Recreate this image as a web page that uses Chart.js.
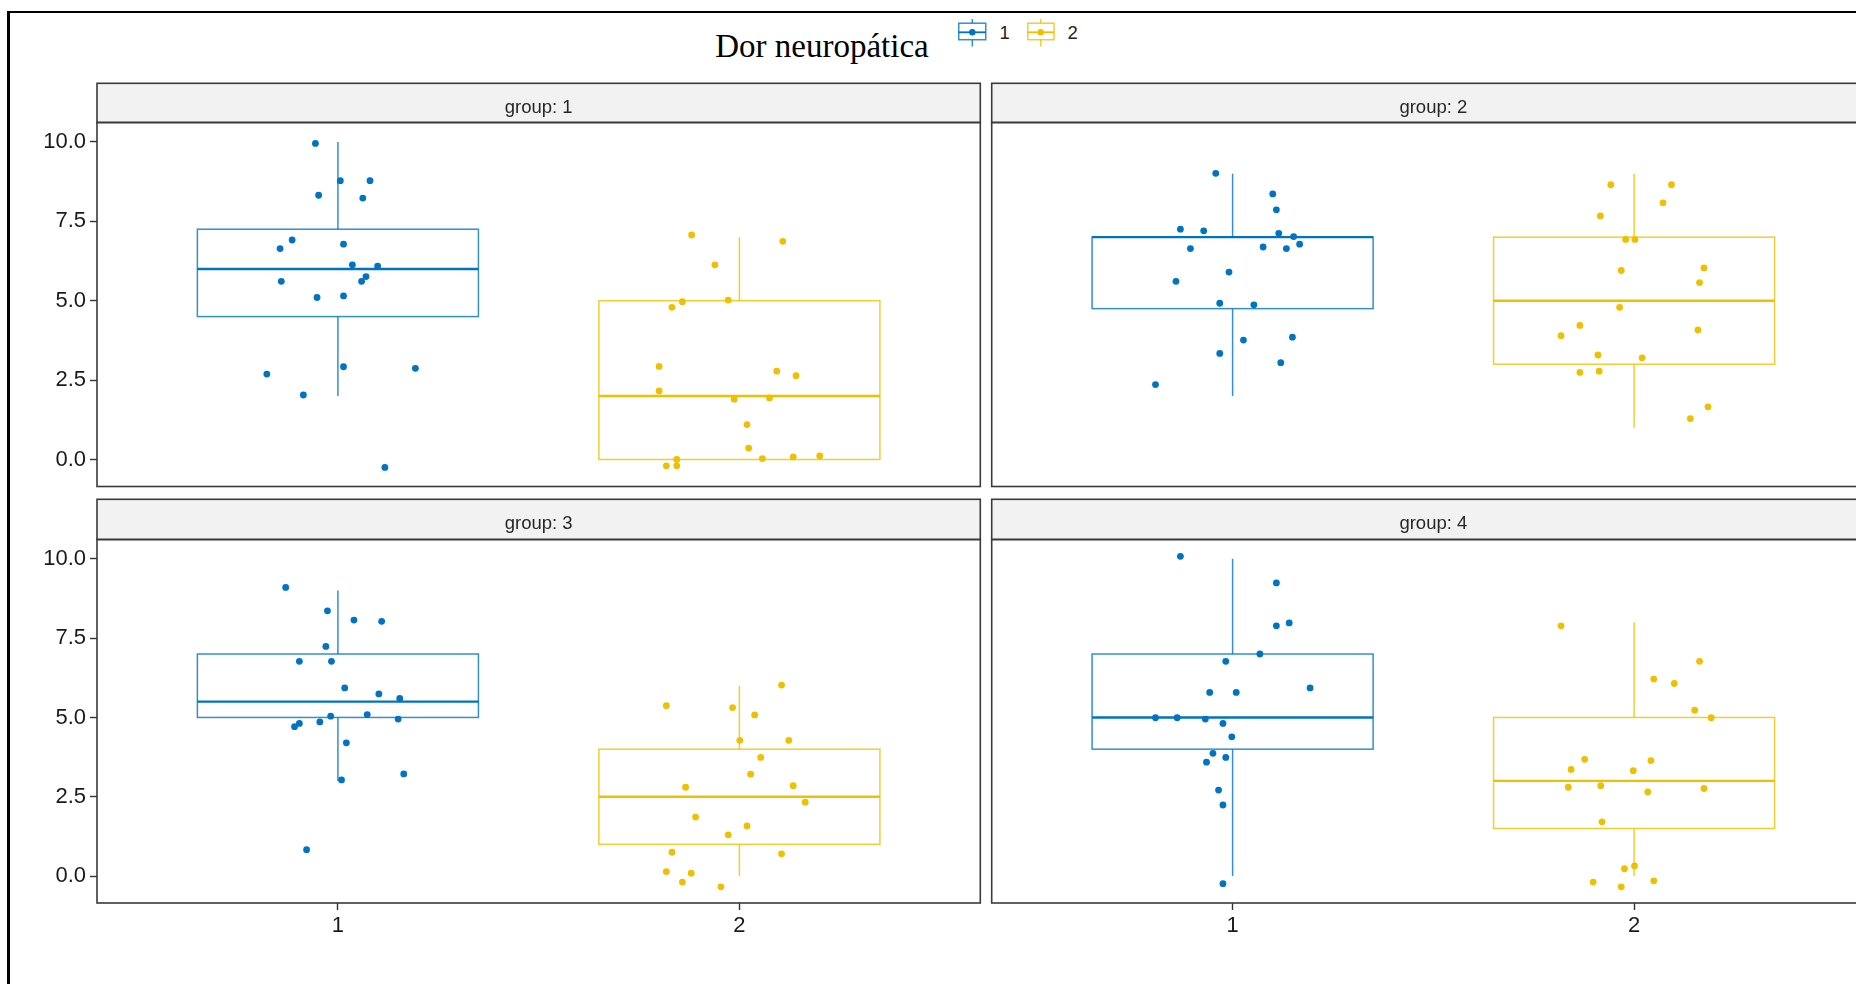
<!DOCTYPE html>
<html>
<head>
<meta charset="utf-8">
<title>Dor neuropática</title>
<script src="https://cdn.jsdelivr.net/npm/chart.js@4.4.1/dist/chart.umd.min.js"></script>
<style>
  html, body { margin: 0; padding: 0; width: 1856px; height: 984px; overflow: hidden; background: #fff; }
  #frame { position: absolute; left: 7px; top: 11px; width: 1900px; height: 1000px;
           border-left: 3px solid #000; border-top: 2.5px solid #000; box-sizing: border-box; }
  canvas { position: absolute; }
  #title { position: absolute; left: 622px; top: 29.5px; width: 400px; text-align: center;
           font-family: "Liberation Serif", "DejaVu Serif", serif; font-size: 33px; line-height: 33px; color: #000; }
  .key { position: absolute; top: 17.5px; }
  .keylab { position: absolute; top: 22.5px; font-family: "Liberation Sans", Arial, sans-serif;
            font-size: 18.5px; line-height: 20px; color: #222; }
</style>
</head>
<body>
<div id="frame"></div>
<div id="title">Dor neuropática</div>

<svg class="key" style="left:958px" width="29" height="30" viewBox="0 0 29 30">
  <line x1="14.3" y1="1" x2="14.3" y2="28.5" stroke="#0073C2" stroke-opacity="0.8" stroke-width="1.5"/>
  <rect x="0.75" y="5.2" width="27" height="16.5" fill="#fff" stroke="#0073C2" stroke-opacity="0.8" stroke-width="1.5"/>
  <line x1="0.75" y1="14.3" x2="27.75" y2="14.3" stroke="#0073C2" stroke-width="1.8"/>
  <circle cx="14.3" cy="14.3" r="3.2" fill="#0073C2"/>
</svg>
<div class="keylab" id="key1" style="left:999.5px"></div>

<svg class="key" style="left:1027px" width="29" height="30" viewBox="0 0 29 30">
  <line x1="13.7" y1="1" x2="13.7" y2="28.5" stroke="#EFC000" stroke-opacity="0.8" stroke-width="1.5"/>
  <rect x="0.75" y="5.2" width="26.3" height="16.5" fill="#fff" stroke="#EFC000" stroke-opacity="0.8" stroke-width="1.5"/>
  <line x1="0.75" y1="14.3" x2="27" y2="14.3" stroke="#EFC000" stroke-width="1.8"/>
  <circle cx="13.7" cy="14.3" r="3.2" fill="#EFC000"/>
</svg>
<div class="keylab" id="key2" style="left:1067.5px"></div>

<canvas id="p1" width="986" height="413" style="left:0px;top:80px;width:986px;height:413px"></canvas>
<canvas id="p2" width="894" height="413" style="left:986px;top:80px;width:894px;height:413px"></canvas>
<canvas id="p3" width="986" height="491" style="left:0px;top:493px;width:986px;height:491px"></canvas>
<canvas id="p4" width="894" height="491" style="left:986px;top:493px;width:894px;height:491px"></canvas>

<script>
// Treatment categories on the x axis (also the legend entries)
const categories = ['1', '2'];
// Facet strip labels
const facetLabels = ['group: 1', 'group: 2', 'group: 3', 'group: 4'];
// Shared y axis ticks
const yTickValues = [0, 2.5, 5, 7.5, 10];
const yTickLabels = ['0.0', '2.5', '5.0', '7.5', '10.0'];

// Pain scores per facet and treatment (jittered plotted values),
// with the horizontal jitter of each point in category units.
const g1Scores1 = [9.95, 8.78, 8.78, 8.32, 8.23, 6.91, 6.64, 6.78, 6.13, 6.09, 5.76, 5.61, 5.61, 5.10, 5.15, 2.92, 2.87, 2.69, 2.03, -0.25];
const g1Jitter1 = [-0.056, 0.006, 0.080, -0.048, 0.062, -0.114, -0.144, 0.014, 0.036, 0.099, 0.070, 0.059, -0.141, -0.052, 0.014, 0.014, 0.193, -0.177, -0.086, 0.117];
const g1Scores2 = [7.07, 6.87, 6.13, 4.97, 4.79, 5.02, 2.93, 2.78, 2.64, 2.16, 1.90, 1.94, 1.10, 0.36, 0.00, -0.20, -0.20, 0.03, 0.08, 0.11];
const g1Jitter2 = [-0.119, 0.108, -0.061, -0.142, -0.168, -0.028, -0.200, 0.093, 0.141, -0.200, -0.013, 0.075, 0.019, 0.023, -0.156, -0.182, -0.156, 0.057, 0.134, 0.200];

const g2Scores1 = [9.01, 8.36, 7.86, 7.25, 7.20, 7.12, 7.02, 6.78, 6.64, 6.69, 6.64, 5.90, 5.61, 4.92, 4.87, 3.76, 3.85, 3.34, 3.05, 2.36];
const g2Jitter1 = [-0.042, 0.100, 0.109, -0.130, -0.072, 0.115, 0.152, 0.167, -0.105, 0.076, 0.134, -0.009, -0.141, -0.032, 0.053, 0.027, 0.149, -0.032, 0.120, -0.192];
const g2Scores2 = [8.65, 8.65, 8.08, 7.67, 6.93, 6.93, 5.95, 6.03, 5.57, 4.79, 4.22, 3.90, 4.08, 3.29, 3.20, 2.74, 2.78, 1.66, 1.29];
const g2Jitter2 = [-0.058, 0.093, 0.072, -0.084, -0.021, 0.002, -0.032, 0.174, 0.163, -0.036, -0.135, -0.182, 0.159, -0.090, 0.020, -0.135, -0.087, 0.184, 0.140];

const g3Scores1 = [9.10, 8.36, 8.07, 8.03, 7.24, 6.77, 6.77, 5.93, 5.74, 5.60, 5.09, 5.04, 4.86, 4.95, 4.81, 4.71, 4.20, 3.03, 3.22, 0.83];
const g3Jitter1 = [-0.130, -0.026, 0.040, 0.109, -0.030, -0.096, -0.016, 0.017, 0.102, 0.154, 0.073, -0.018, -0.045, 0.150, -0.096, -0.108, 0.021, 0.009, 0.164, -0.078];
const g3Scores2 = [6.02, 5.37, 5.31, 5.08, 4.28, 4.28, 3.74, 3.21, 2.80, 2.85, 2.33, 1.86, 1.58, 1.30, 0.75, 0.70, 0.14, 0.09, -0.19, -0.34];
const g3Jitter2 = [0.105, -0.182, -0.017, 0.038, 0.001, 0.123, 0.053, 0.028, -0.134, 0.134, 0.164, -0.109, 0.019, -0.028, -0.168, 0.105, -0.182, -0.120, -0.142, -0.046];

const g4Scores1 = [10.08, 9.24, 7.89, 7.98, 7.00, 6.77, 5.79, 5.79, 5.93, 4.99, 4.99, 4.95, 4.81, 4.39, 3.87, 3.74, 3.59, 2.71, 2.24, -0.24];
const g4Jitter1 = [-0.130, 0.109, 0.109, 0.141, 0.068, -0.017, -0.057, 0.009, 0.193, -0.192, -0.138, -0.068, -0.024, -0.002, -0.049, -0.017, -0.065, -0.035, -0.024, -0.024];
const g4Scores2 = [7.89, 6.77, 6.21, 6.07, 5.23, 4.99, 3.68, 3.64, 3.36, 3.32, 2.80, 2.85, 2.65, 2.76, 1.71, 0.23, 0.32, -0.19, -0.34, -0.15];
const g4Jitter2 = [-0.182, 0.163, 0.049, 0.100, 0.151, 0.192, -0.123, 0.042, -0.157, -0.002, -0.164, -0.083, 0.034, 0.174, -0.080, -0.024, 0.001, -0.102, -0.032, 0.049];

// Box statistics: [lower whisker, Q1, median, Q3, upper whisker]
const g1Box1 = [2, 4.5, 6, 7.25, 10];
const g1Box2 = [0, 0, 2, 5, 7];
const g2Box1 = [2, 4.75, 7, 7, 9];
const g2Box2 = [1, 3, 5, 7, 9];
const g3Box1 = [3, 5, 5.5, 7, 9];
const g3Box2 = [0, 1, 2.5, 4, 6];
const g4Box1 = [0, 4, 5, 7, 10];
const g4Box2 = [0, 1.5, 3, 5, 8];

const palette = ['#0073C2', '#EFC000'];
const SANS = '"Liberation Sans", Arial, sans-serif';

document.getElementById('key1').textContent = categories[0];
document.getElementById('key2').textContent = categories[1];

const facets = [
  { label: facetLabels[0], scores: [g1Scores1, g1Scores2], jitter: [g1Jitter1, g1Jitter2], boxes: [g1Box1, g1Box2] },
  { label: facetLabels[1], scores: [g2Scores1, g2Scores2], jitter: [g2Jitter1, g2Jitter2], boxes: [g2Box1, g2Box2] },
  { label: facetLabels[2], scores: [g3Scores1, g3Scores2], jitter: [g3Jitter1, g3Jitter2], boxes: [g3Box1, g3Box2] },
  { label: facetLabels[3], scores: [g4Scores1, g4Scores2], jitter: [g4Jitter1, g4Jitter2], boxes: [g4Box1, g4Box2] }
];

function withAlpha(hex, a) {
  const n = parseInt(hex.slice(1), 16);
  return `rgba(${(n >> 16) & 255},${(n >> 8) & 255},${n & 255},${a})`;
}

// Box-and-whisker layer, drawn under the jittered points
function boxLayer(facet) {
  return {
    id: 'boxLayer',
    beforeDatasetsDraw(chart) {
      const { ctx, scales: { x, y } } = chart;
      const half = 0.35;
      facet.boxes.forEach((st, s) => {
        const [lo, q1, med, q3, hi] = st;
        const c = s + 1;
        const xl = x.getPixelForValue(c - half);
        const xr = x.getPixelForValue(c + half);
        const xc = x.getPixelForValue(c);
        const col = palette[s];
        ctx.save();
        ctx.strokeStyle = withAlpha(col, 0.8);
        ctx.lineWidth = 1.5;
        ctx.beginPath();
        ctx.moveTo(xc, y.getPixelForValue(hi)); ctx.lineTo(xc, y.getPixelForValue(q3));
        ctx.moveTo(xc, y.getPixelForValue(q1)); ctx.lineTo(xc, y.getPixelForValue(lo));
        ctx.stroke();
        ctx.strokeRect(xl, y.getPixelForValue(q3), xr - xl, y.getPixelForValue(q1) - y.getPixelForValue(q3));
        ctx.strokeStyle = col;
        ctx.lineWidth = 2.4;
        ctx.beginPath();
        ctx.moveTo(xl, y.getPixelForValue(med)); ctx.lineTo(xr, y.getPixelForValue(med));
        ctx.stroke();
        ctx.restore();
      });
    }
  };
}

// Facet strip above the panel and the panel border
function stripLayer(facet, stripTop) {
  return {
    id: 'stripLayer',
    afterDraw(chart) {
      const { ctx, chartArea: a } = chart;
      ctx.save();
      ctx.fillStyle = '#F2F2F2';
      ctx.fillRect(a.left, stripTop, a.right - a.left, a.top - stripTop);
      ctx.strokeStyle = '#3a3a3a';
      ctx.lineWidth = 1.6;
      ctx.strokeRect(a.left, stripTop, a.right - a.left, a.top - stripTop);
      ctx.strokeRect(a.left, a.top, a.right - a.left, a.bottom - a.top);
      ctx.fillStyle = '#262626';
      ctx.font = '18.5px ' + SANS;
      ctx.textAlign = 'center';
      ctx.textBaseline = 'alphabetic';
      ctx.fillText(facet.label, (a.left + a.right) / 2, stripTop + 29.3);
      ctx.restore();
    }
  };
}

function makeChart(id, facet, opt) {
  return new Chart(document.getElementById(id), {
    type: 'scatter',
    data: {
      datasets: facet.scores.map((vals, s) => ({
        label: categories[s],
        data: vals.map((v, i) => ({ x: s + 1 + facet.jitter[s][i], y: v })),
        backgroundColor: palette[s],
        borderWidth: 0,
        pointRadius: 3.4,
        pointHoverRadius: 3.4
      }))
    },
    options: {
      responsive: false,
      animation: false,
      events: [],
      layout: { padding: opt.padding },
      plugins: { legend: { display: false }, tooltip: { enabled: false }, title: { display: false } },
      scales: {
        x: {
          type: 'linear', min: 0.4, max: 2.6,
          display: opt.showX,
          afterBuildTicks: (sc) => { sc.ticks = categories.map((c, i) => ({ value: i + 1 })); },
          afterFit: (sc) => { sc.height = opt.showX ? opt.xHeight : 0; sc.paddingLeft = 0; sc.paddingRight = 0; },
          ticks: { callback: (v, i) => categories[i], font: { family: SANS, size: 22 }, color: '#1a1a1a', padding: 3, maxRotation: 0, autoSkip: false },
          grid: { display: true, drawOnChartArea: false, drawTicks: true, tickLength: 7, tickColor: '#333', tickWidth: 1.4 },
          border: { display: false }
        },
        y: {
          type: 'linear', min: -0.85, max: 10.61,
          display: opt.showY,
          afterBuildTicks: (sc) => { sc.ticks = yTickValues.map(v => ({ value: v })); },
          afterFit: (sc) => { sc.width = opt.showY ? 97 : 0; sc.paddingTop = 0; sc.paddingBottom = 0; },
          ticks: { callback: (v, i) => yTickLabels[i], font: { family: SANS, size: 22 }, color: '#1a1a1a', padding: 4, autoSkip: false },
          grid: { display: true, drawOnChartArea: false, drawTicks: true, tickLength: 7, tickColor: '#333', tickWidth: 1.4 },
          border: { display: false }
        }
      }
    },
    plugins: [boxLayer(facet), stripLayer(facet, opt.stripTop)]
  });
}

makeChart('p1', facets[0], { showX: false, showY: true,  xHeight: 0,  stripTop: 3.3, padding: { top: 42.5, bottom: 6.5, left: 0, right: 5.7 } });
makeChart('p2', facets[1], { showX: false, showY: false, xHeight: 0,  stripTop: 3.3, padding: { top: 42.5, bottom: 6.5, left: 5.7, right: 5 } });
makeChart('p3', facets[2], { showX: true,  showY: true,  xHeight: 81, stripTop: 6.3, padding: { top: 46.5, bottom: 0, left: 0, right: 5.7 } });
makeChart('p4', facets[3], { showX: true,  showY: false, xHeight: 81, stripTop: 6.3, padding: { top: 46.5, bottom: 0, left: 5.7, right: 5 } });
</script>
</body>
</html>
